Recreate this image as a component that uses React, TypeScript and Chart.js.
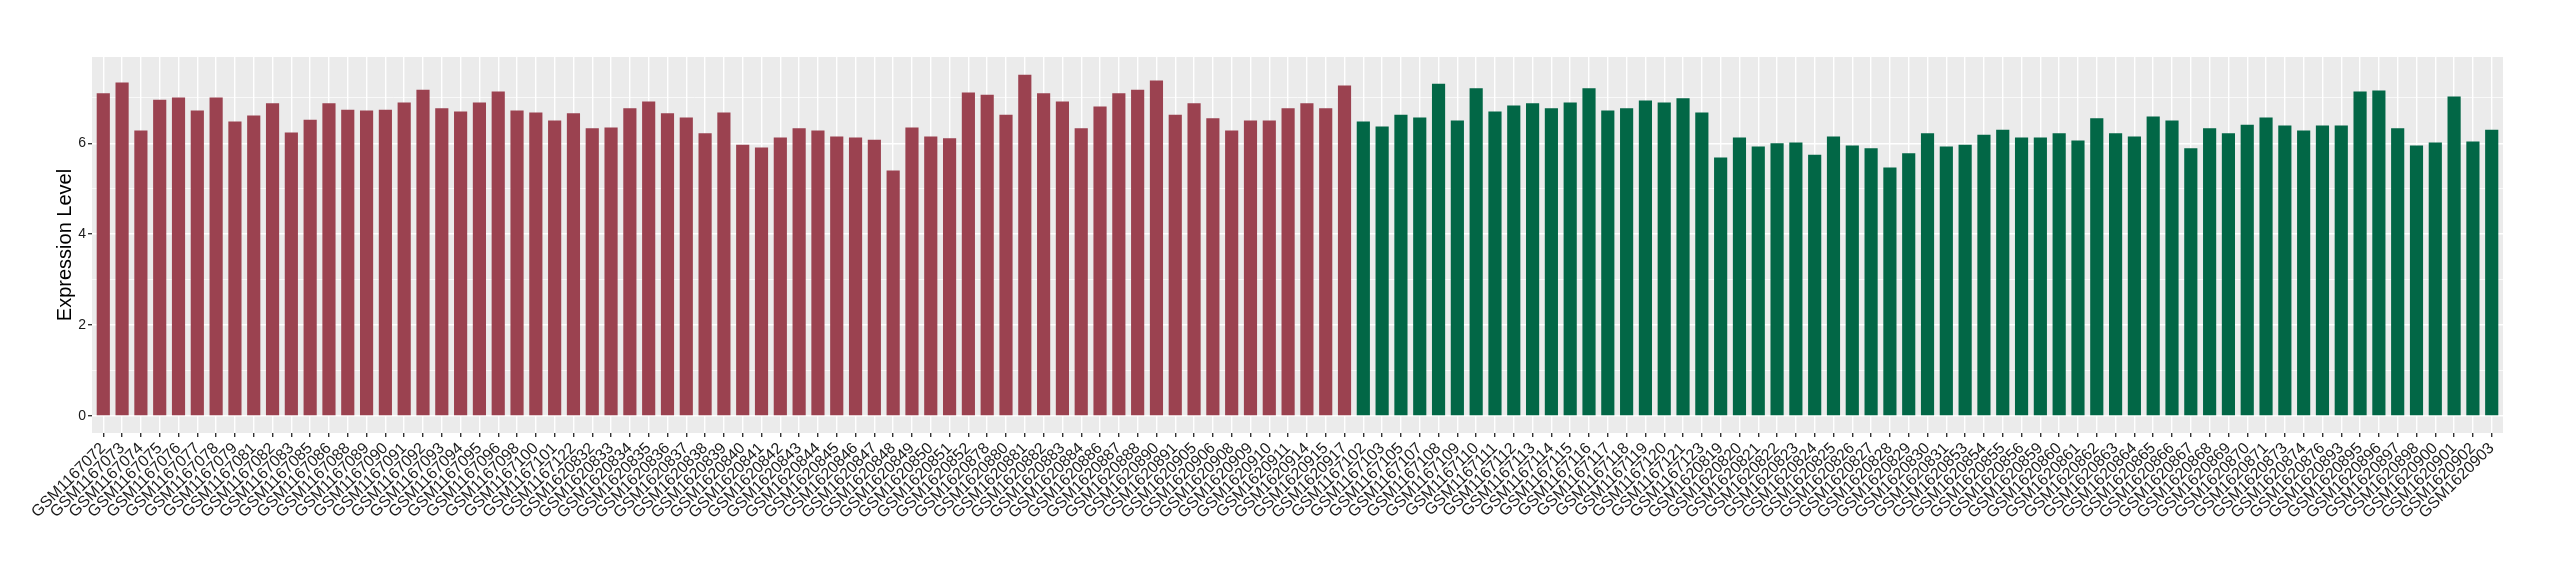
import React, { useEffect, useRef } from "react";
import { Chart, registerables } from "chart.js";

Chart.register(...registerables);

const redLabels = [
  "GSM1167072", "GSM1167073", "GSM1167074", "GSM1167075", "GSM1167076", "GSM1167077",
  "GSM1167078", "GSM1167079", "GSM1167081", "GSM1167082", "GSM1167083", "GSM1167085",
  "GSM1167086", "GSM1167088", "GSM1167089", "GSM1167090", "GSM1167091", "GSM1167092",
  "GSM1167093", "GSM1167094", "GSM1167095", "GSM1167096", "GSM1167098", "GSM1167100",
  "GSM1167101", "GSM1167122", "GSM1620832", "GSM1620833", "GSM1620834", "GSM1620835",
  "GSM1620836", "GSM1620837", "GSM1620838", "GSM1620839", "GSM1620840", "GSM1620841",
  "GSM1620842", "GSM1620843", "GSM1620844", "GSM1620845", "GSM1620846", "GSM1620847",
  "GSM1620848", "GSM1620849", "GSM1620850", "GSM1620851", "GSM1620852", "GSM1620878",
  "GSM1620880", "GSM1620881", "GSM1620882", "GSM1620883", "GSM1620884", "GSM1620886",
  "GSM1620887", "GSM1620888", "GSM1620890", "GSM1620891", "GSM1620905", "GSM1620906",
  "GSM1620908", "GSM1620909", "GSM1620910", "GSM1620911", "GSM1620914", "GSM1620915",
  "GSM1620917",
];

const redValues = [
  7.10, 7.34, 6.28, 6.96, 7.01, 6.72, 7.01, 6.48, 6.61, 6.88,
  6.24, 6.52, 6.88, 6.74, 6.72, 6.74, 6.90, 7.18, 6.77, 6.70,
  6.90, 7.14, 6.72, 6.68, 6.50, 6.66, 6.33, 6.35, 6.77, 6.92,
  6.66, 6.57, 6.22, 6.68, 5.97, 5.91, 6.13, 6.33, 6.28, 6.15,
  6.13, 6.08, 5.40, 6.35, 6.15, 6.11, 7.12, 7.07, 6.63, 7.51,
  7.10, 6.92, 6.33, 6.81, 7.10, 7.18, 7.38, 6.63, 6.88, 6.55,
  6.28, 6.50, 6.50, 6.77, 6.88, 6.77, 7.27,
];

const greenLabels = [
  "GSM1167102", "GSM1167103", "GSM1167105", "GSM1167107", "GSM1167108", "GSM1167109",
  "GSM1167110", "GSM1167111", "GSM1167112", "GSM1167113", "GSM1167114", "GSM1167115",
  "GSM1167116", "GSM1167117", "GSM1167118", "GSM1167119", "GSM1167120", "GSM1167121",
  "GSM1167123", "GSM1620819", "GSM1620820", "GSM1620821", "GSM1620822", "GSM1620823",
  "GSM1620824", "GSM1620825", "GSM1620826", "GSM1620827", "GSM1620828", "GSM1620829",
  "GSM1620830", "GSM1620831", "GSM1620853", "GSM1620854", "GSM1620855", "GSM1620856",
  "GSM1620859", "GSM1620860", "GSM1620861", "GSM1620862", "GSM1620863", "GSM1620864",
  "GSM1620865", "GSM1620866", "GSM1620867", "GSM1620868", "GSM1620869", "GSM1620870",
  "GSM1620871", "GSM1620873", "GSM1620874", "GSM1620876", "GSM1620893", "GSM1620895",
  "GSM1620896", "GSM1620897", "GSM1620898", "GSM1620900", "GSM1620901", "GSM1620902",
  "GSM1620903",
];

const greenValues = [
  6.48, 6.37, 6.63, 6.57, 7.31, 6.50, 7.21, 6.70, 6.83, 6.88,
  6.77, 6.90, 7.21, 6.72, 6.77, 6.94, 6.90, 6.99, 6.68, 5.69,
  6.13, 5.93, 6.00, 6.02, 5.75, 6.15, 5.95, 5.89, 5.47, 5.78,
  6.22, 5.93, 5.97, 6.19, 6.30, 6.13, 6.13, 6.22, 6.06, 6.55,
  6.22, 6.15, 6.59, 6.50, 5.89, 6.33, 6.22, 6.41, 6.57, 6.39,
  6.28, 6.39, 6.39, 7.14, 7.16, 6.33, 5.95, 6.02, 7.03, 6.04,
  6.30,
];

const yTickLabels = [0, 2, 4, 6];

const allLabels = [...redLabels, ...greenLabels];

export default function App() {
  const ref = useRef<HTMLCanvasElement>(null);

  useEffect(() => {
    if (!ref.current) return;
    const panelPlugin = {
      id: "panelBg",
      beforeDraw(chart: any) {
        const { ctx, chartArea } = chart;
        ctx.save();
        ctx.fillStyle = "#EBEBEB";
        ctx.fillRect(chartArea.left, chartArea.top, chartArea.right - chartArea.left, chartArea.bottom - chartArea.top);
        ctx.restore();
      },
    };

    const chart = new Chart(ref.current, {
      type: "bar",
      data: {
        datasets: [
          {
            label: "group1",
            data: redValues.map((v, i) => ({ x: i, y: v })),
            backgroundColor: "#9B4250",
            grouped: false,
            barPercentage: 0.7,
            categoryPercentage: 1,
          } as any,
          {
            label: "group2",
            data: greenValues.map((v, i) => ({ x: redValues.length + i, y: v })),
            backgroundColor: "#026746",
            grouped: false,
            barPercentage: 0.7,
            categoryPercentage: 1,
          } as any,
        ],
      },
      options: {
        animation: false,
        responsive: false,
        devicePixelRatio: 1,
        layout: { padding: { left: 0, top: 57, right: 57, bottom: 0 } },
        plugins: { legend: { display: false }, tooltip: { enabled: false }, title: { display: false } },
        scales: {
          x: {
            type: "linear",
            min: -0.6,
            max: allLabels.length - 1 + 0.6,
            offset: false,
            border: { display: false },
            grid: {
              offset: false,
              color: "#FFFFFF",
              lineWidth: 1.4,
              tickColor: "#333333",
              tickLength: 4,
            },
            ticks: {
              stepSize: 1,
              autoSkip: false,
              includeBounds: false,
              maxRotation: 45,
              minRotation: 45,
              padding: 2,
              color: "#1A1A1A",
              font: { family: "'Liberation Sans', Arial, sans-serif", size: 16 },
              callback: (v: any) => allLabels[v as number] ?? "",
            },
            afterFit: (s: any) => {
              s.height = 580 - 433;
            },
          },
          y: {
            min: -0.376,
            max: 7.9,
            border: { display: false },
            grid: {
              color: "#FFFFFF",
              lineWidth: (c: any) => (c.tick && c.tick.value % 2 === 0 ? 1.4 : 0.7),
              tickColor: (c: any) => (c.tick && c.tick.value % 2 === 0 ? "#333333" : "rgba(0,0,0,0)"),
              tickLength: 4,
            },
            ticks: {
              stepSize: 1,
              includeBounds: false,
              padding: 2,
              color: "#1A1A1A",
              font: { family: "'Liberation Sans', Arial, sans-serif", size: 14 },
              callback: (v: any) => (yTickLabels.includes(v as number) ? String(v) : ""),
            },
            title: {
              display: true,
              text: "Expression Level",
              color: "#000000",
              font: { family: "'Liberation Sans', Arial, sans-serif", size: 20 },
              padding: { top: 53, bottom: 0 },
            },
            afterFit: (s: any) => {
              s.width = 92;
            },
          },
        },
      },
      plugins: [panelPlugin],
    });

    return () => chart.destroy();
  }, []);

  return (
    <div style={{ position: "absolute", left: 0, top: 0, width: 2560, height: 580, background: "#FFFFFF" }}>
      <canvas ref={ref} width={2560} height={580} style={{ display: "block" }} />
    </div>
  );
}
